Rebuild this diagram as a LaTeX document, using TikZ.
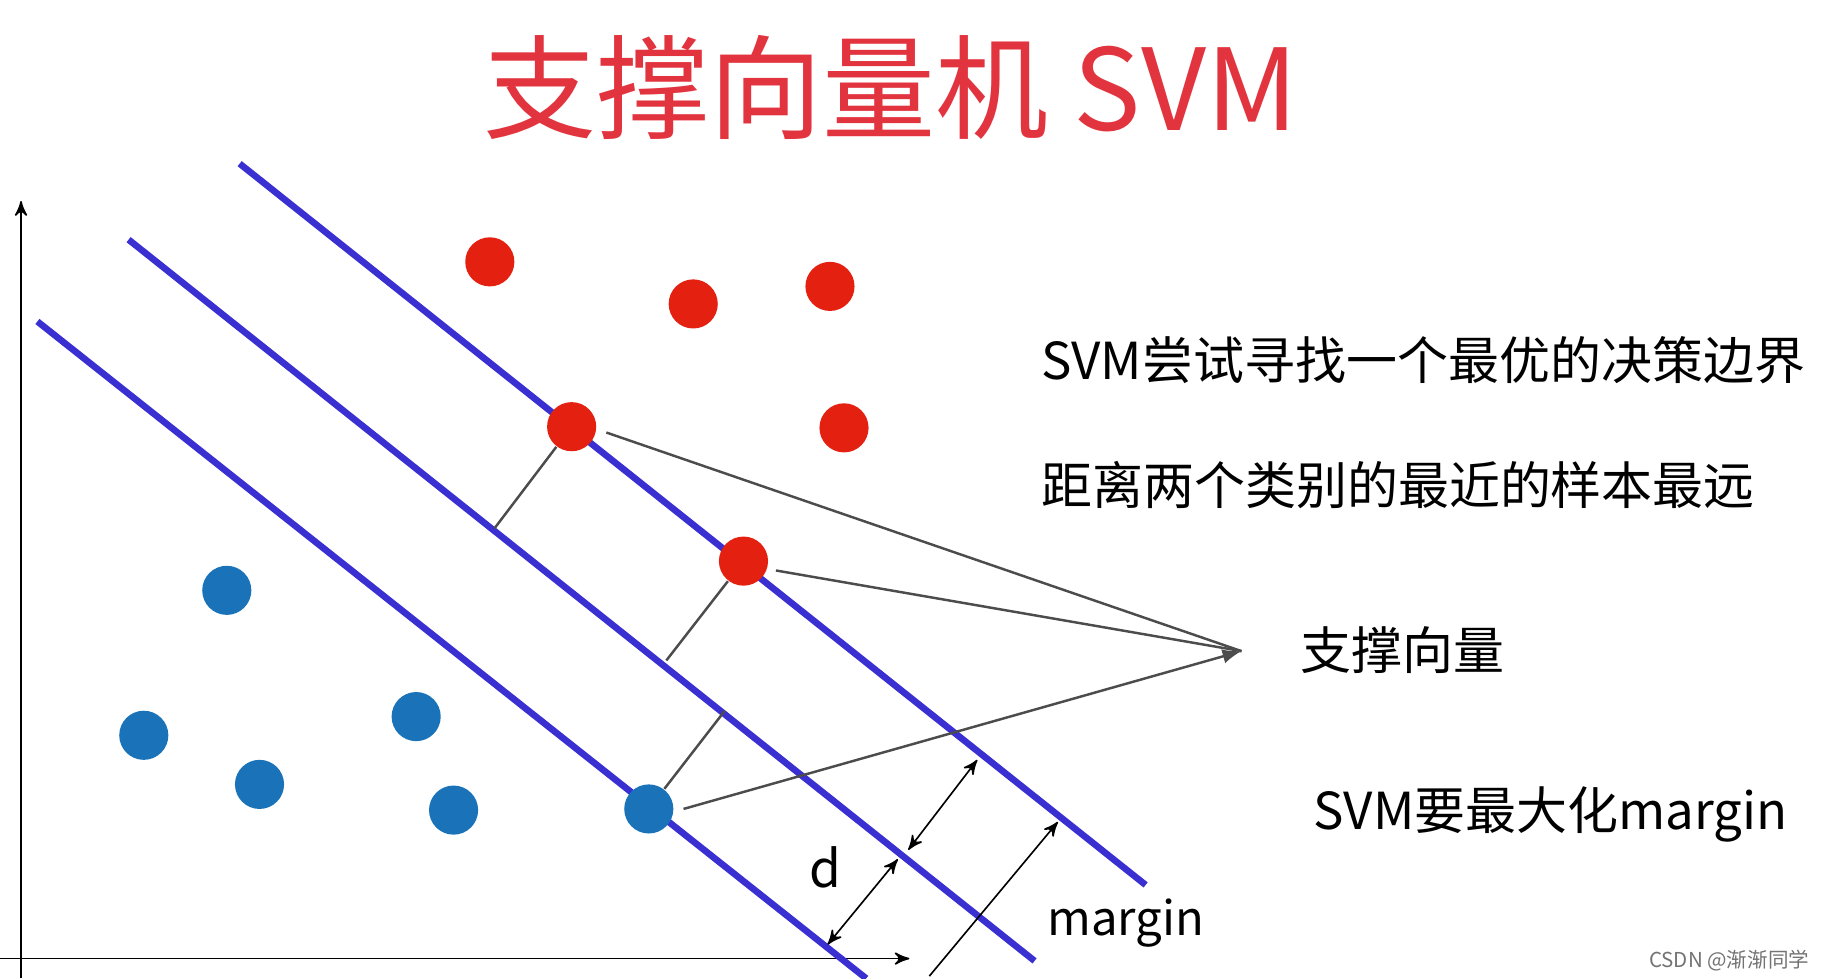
\documentclass[tikz,border=0pt]{standalone}
\usepackage{fontspec}
\setmainfont{Noto Sans CJK SC}
\usetikzlibrary{arrows}

\definecolor{redpt}{RGB}{228,32,16}
\definecolor{bluept}{RGB}{26,115,184}
\definecolor{bound}{RGB}{58,47,208}
\definecolor{titlered}{RGB}{226,52,62}

\begin{document}
\begin{tikzpicture}[x=0.01cm,y=-0.01cm,>=stealth',
    red dot/.style={circle,fill=redpt,inner sep=0pt,minimum size=0.42cm},
    blue dot/.style={circle,fill=bluept,inner sep=0pt,minimum size=0.42cm},
    bound line/.style={bound,line width=1.6pt},
    gap line/.style={black!70,line width=0.6pt},
    label text/.style={font=\fontsize{12.4}{14}\selectfont,anchor=west,inner sep=0pt}]

  \useasboundingbox (0,0) rectangle (1568,837);

  % title
  \node[text=titlered,font=\fontsize{27.5}{32}\selectfont] (title) at (762,75) {支撑向量机 SVM};

  % axes
  \coordinate (ytop) at (18,172);
  \coordinate (xend) at (778,820);
  \draw[->,thin] (18,837) -- (ytop);
  \draw[->,thin] (0,820) -- (xend);

  % decision boundary and margins
  \draw[bound line] (205,140) -- (980,757);
  \draw[bound line] (110,205) -- (885,822);
  \draw[bound line] (32,275) -- (741,837);

  % samples
  \foreach \x/\y [count=\i] in {419/224,593/260,710/245,722/366,489/365,636/480}
    \node[red dot] (r\i) at (\x,\y) {};
  \foreach \x/\y [count=\i] in {194/505,123/629,222/671,356/613,388/693,555/692}
    \node[blue dot] (b\i) at (\x,\y) {};

  % distances to boundary
  \coordinate (p1) at (423,452);
  \coordinate (p2) at (570,565);
  \coordinate (p3) at (620,608);
  \draw[gap line] (r5) -- (p1);
  \draw[gap line] (r6) -- (p2);
  \draw[gap line] (b6) -- (p3);

  % support vector pointers
  \coordinate (sv) at (1062,557);
  \draw[gap line] (r5.east) ++(8,5) -- (sv);
  \draw[gap line] (r6.east) ++(6,8) -- (sv);
  \draw[gap line,-latex] (b6.east) ++(8,0) -- (sv);

  % margin arrows
  \coordinate (d1a) at (777,727);
  \coordinate (d1b) at (836,650);
  \coordinate (d2a) at (708,808);
  \coordinate (d2b) at (768,735);
  \coordinate (d3a) at (795,835);
  \coordinate (d3b) at (905,703);
  \draw[<->,black,thin] (d1a) -- (d1b);
  \draw[<->,black,thin] (d2a) -- (d2b);
  \draw[->,black,thin] (d3a) -- (d3b);

  % labels
  \node[font=\fontsize{12.5}{15}\selectfont] (d) at (706,742) {d};
  \node[font=\fontsize{11.5}{14}\selectfont] (margin) at (963,790) {margin};
  \node[label text] (t1) at (890,308) {SVM尝试寻找一个最优的决策边界};
  \node[label text] (t2) at (890,415) {距离两个类别的最近的样本最远};
  \node[label text] (t3) at (1112,556) {支撑向量};
  \node[label text] (t4) at (1123,697) {SVM要最大化margin};
  \node[font=\fontsize{5}{6}\selectfont,text=black!55,anchor=east] (wm) at (1560,822) {CSDN @渐渐同学};
\end{tikzpicture}
\end{document}
